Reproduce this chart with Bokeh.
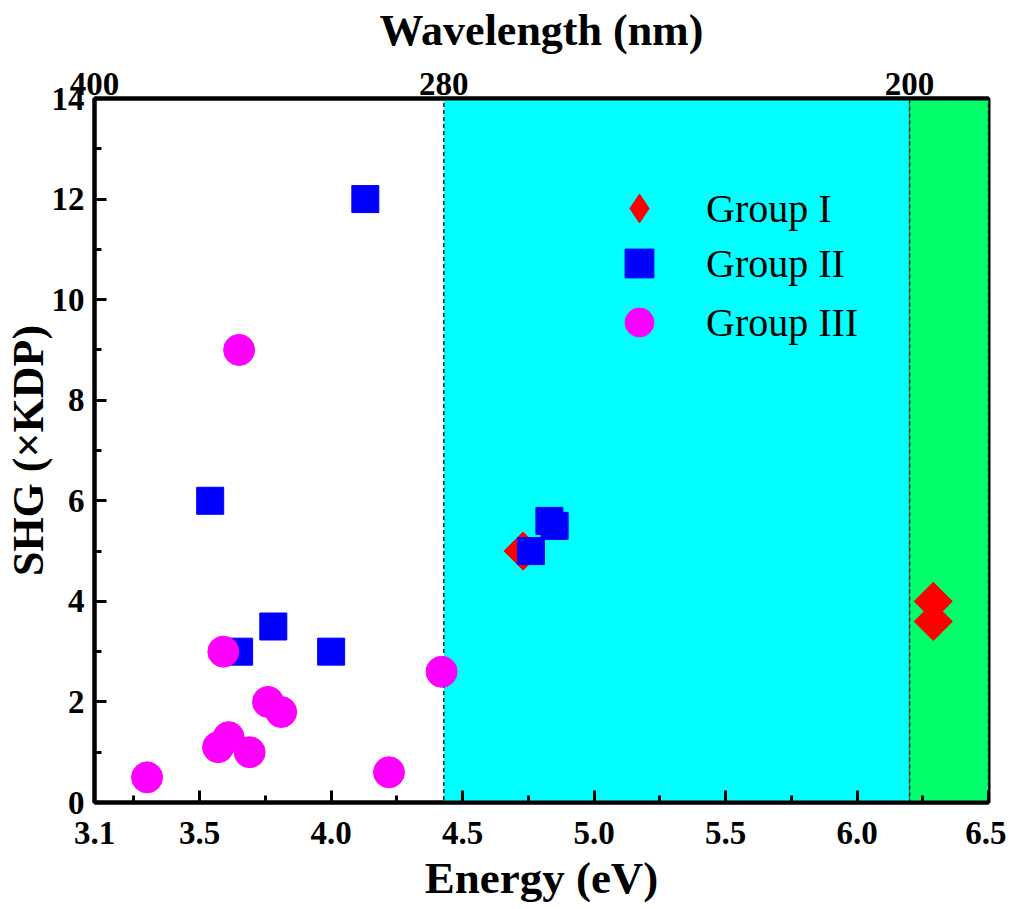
import numpy as np
from bokeh.plotting import figure
from bokeh.models import (Range1d, LinearAxis, FixedTicker, NumeralTickFormatter,
                          CustomJSTickFormatter, Legend, LegendItem, ColumnDataSource)
from bokeh.embed import file_html
from bokeh.resources import INLINE

# ---- data ----
g1_energy = [4.73, 6.29, 6.29]
g1_shg = [5.0, 4.0, 3.6]

g2_energy = [4.13, 3.54, 3.65, 3.78, 4.00, 4.76, 4.83, 4.85]
g2_shg = [12.0, 6.0, 3.0, 3.5, 3.0, 5.0, 5.6, 5.5]

g3_energy = [3.30, 3.59, 3.57, 3.61, 3.69, 3.76, 3.81, 4.42, 4.22, 3.65]
g3_shg = [0.5, 3.0, 1.1, 1.3, 1.0, 2.0, 1.8, 2.6, 0.6, 9.0]

series_names = ["Group I", "Group II", "Group III"]

energy_ticks = [3.1, 3.5, 4.0, 4.5, 5.0, 5.5, 6.0, 6.5]
energy_minor = [3.25, 3.75, 4.25, 4.75, 5.25, 5.75, 6.25]
shg_ticks = [0, 2, 4, 6, 8, 10, 12, 14]
shg_minor = [1, 3, 5, 7, 9, 11, 13]
wavelength_ticks = [400, 280, 200]   # nm
uv_edge_nm = 280
duv_edge_nm = 200
HC = 1240.0  # eV*nm

FONT = "Liberation Serif"

p = figure(frame_width=894, frame_height=704,
           x_range=Range1d(3.1, 6.5), y_range=Range1d(0, 14),
           output_backend="svg", toolbar_location=None,
           x_axis_label="Energy (eV)", y_axis_label="SHG (×KDP)",
           min_border_left=90, min_border_top=98,
           min_border_right=18, min_border_bottom=96)
p.grid.visible = False
p.outline_line_color = "black"
p.outline_line_width = 4
p.background_fill_color = "white"

# shaded regions
x_uv = HC / uv_edge_nm
x_duv = HC / duv_edge_nm
x_end = 6.5
p.quad(left=[x_uv], right=[x_duv], bottom=[0], top=[14],
       fill_color="#00FFFF", line_color="#222222", line_dash="4 3", line_width=1.5)
p.quad(left=[x_duv], right=[x_end], bottom=[0], top=[14],
       fill_color="#00FF6A", line_color="#222222", line_dash="4 3", line_width=1.5)

r1 = p.scatter(g1_energy, g1_shg, marker="square", angle=np.pi / 4, size=27,
               fill_color="#FF0000", line_color="#FF0000")
r2 = p.scatter(g2_energy, g2_shg, marker="square", size=27,
               fill_color="#0000FF", line_color="#0000FF")
r3 = p.scatter(g3_energy, g3_shg, marker="circle", size=31,
               fill_color="#FF00FF", line_color="#FF00FF")
# legend-only glyph for Group I (Bokeh legends do not rotate markers); nothing drawn in the plot
r1_leg = p.scatter(x="x", y="y", source=ColumnDataSource(dict(x=[np.nan], y=[np.nan])),
                   marker="diamond", fill_color="#FF0000", line_color="#FF0000")

# bottom axis
xa = p.xaxis[0]
xa.ticker = FixedTicker(ticks=energy_ticks, minor_ticks=energy_minor)
xa.formatter = NumeralTickFormatter(format="0.0")
# left axis
ya = p.yaxis[0]
ya.ticker = FixedTicker(ticks=shg_ticks, minor_ticks=shg_minor)

for ax in (xa, ya):
    ax.axis_line_width = 4
    ax.axis_line_color = "black"
    ax.major_tick_in = 12
    ax.major_tick_out = 0
    ax.minor_tick_in = 7
    ax.minor_tick_out = 0
    ax.major_tick_line_width = 3
    ax.minor_tick_line_width = 3
    ax.major_tick_line_color = "black"
    ax.minor_tick_line_color = "black"
    ax.major_label_text_font = FONT
    ax.major_label_text_font_style = "bold"
    ax.major_label_text_font_size = "33px"
    ax.major_label_text_color = "black"
    ax.axis_label_text_font = FONT
    ax.axis_label_text_font_style = "bold"
    ax.axis_label_text_color = "black"

xa.axis_label_text_font_size = "45px"
ya.axis_label_text_font_size = "44px"
xa.major_label_standoff = 19
xa.axis_label_standoff = 6
ya.major_label_standoff = 10
ya.axis_label_standoff = -4

# top wavelength axis
top = LinearAxis(axis_label="Wavelength (nm)",
                 ticker=FixedTicker(ticks=[HC / w for w in wavelength_ticks], minor_ticks=[]),
                 formatter=CustomJSTickFormatter(code="return (1240/tick).toFixed(0);"))
top.axis_line_width = 4
top.axis_line_color = "black"
top.major_tick_in = 0
top.major_tick_out = 0
top.minor_tick_in = 0
top.minor_tick_out = 0
top.major_label_standoff = 4
top.major_label_text_font = FONT
top.major_label_text_font_style = "bold"
top.major_label_text_font_size = "33px"
top.major_label_text_color = "black"
top.axis_label_text_font = FONT
top.axis_label_text_font_style = "bold"
top.axis_label_text_font_size = "44px"
top.axis_label_text_color = "black"
top.axis_label_standoff = 15
p.add_layout(top, "above")

# one single-entry legend per group so that the rows can sit as close as in the reference
legend_rows = [(r1_leg, 558), (r2, 503), (r3, 444)]
for name, (rend, ypos) in zip(series_names, legend_rows):
    lg = Legend(items=[LegendItem(label=name, renderers=[rend])],
                location=(509, ypos), orientation="vertical",
                background_fill_alpha=0, border_line_alpha=0,
                label_text_font=FONT, label_text_font_size="40px",
                label_text_color="black",
                glyph_width=72, glyph_height=72, label_height=40,
                spacing=0, padding=0, margin=0, label_standoff=31)
    p.add_layout(lg, "center")

open("out.html", "w").write(file_html(p, INLINE))
